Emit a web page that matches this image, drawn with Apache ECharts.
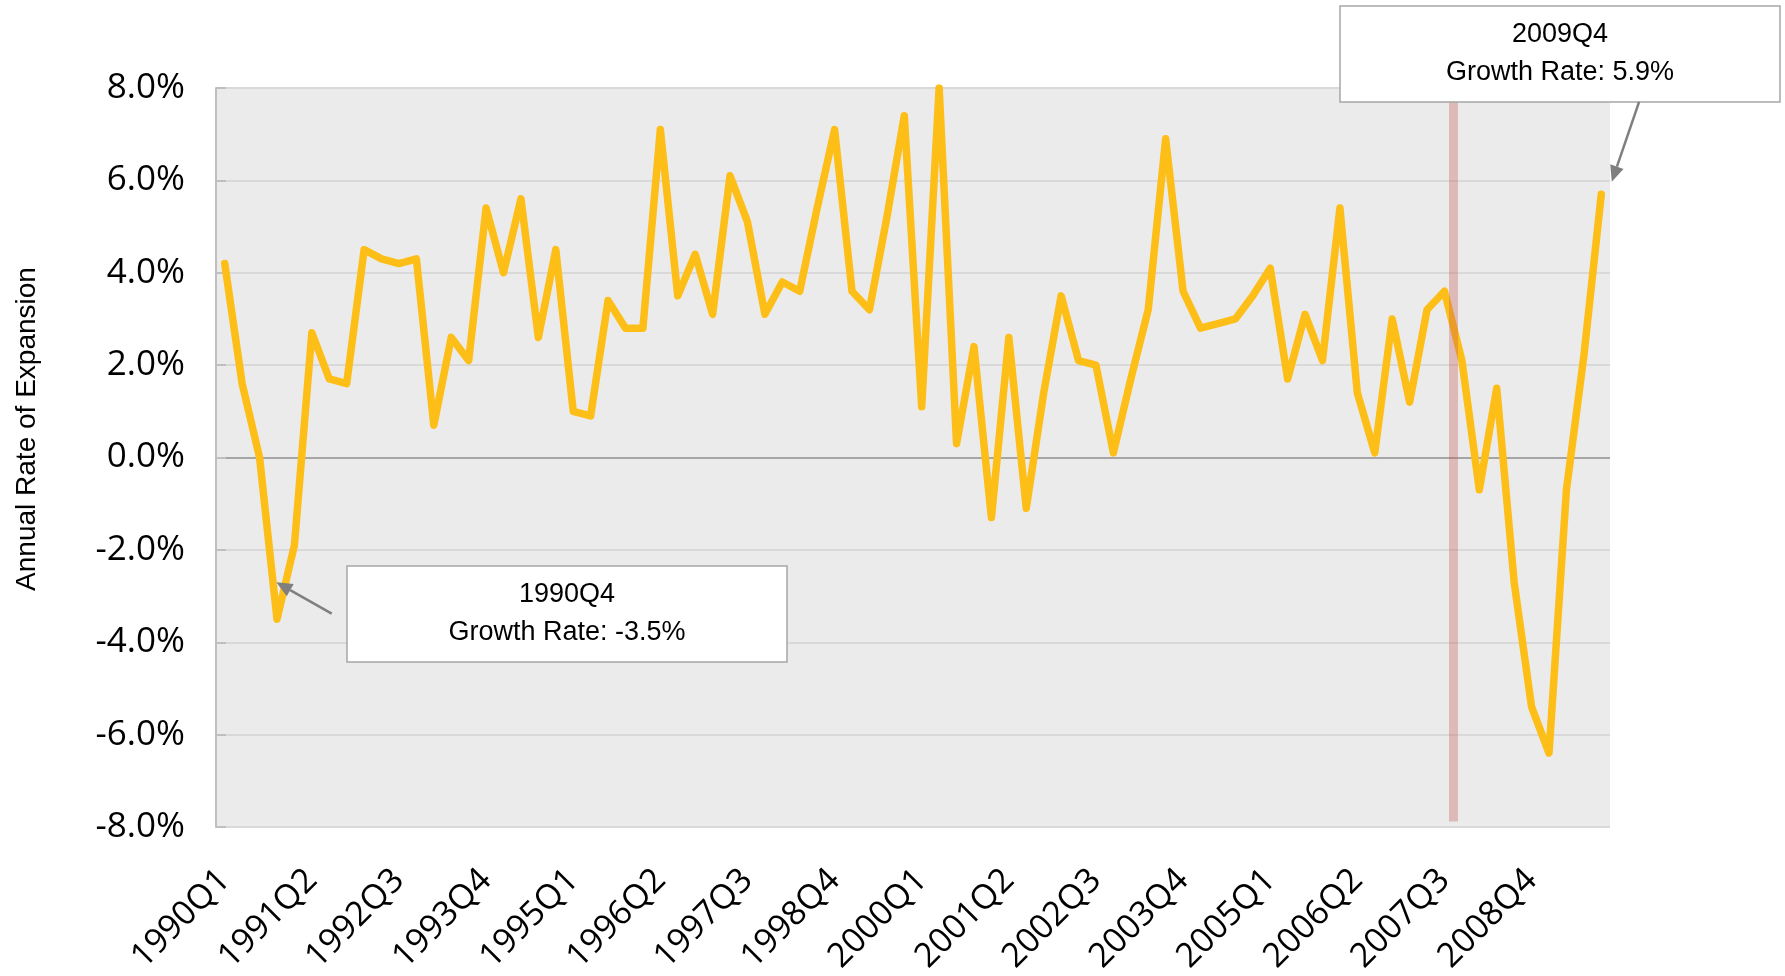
<!DOCTYPE html>
<html>
<head>
<meta charset="utf-8">
<title>Annual Rate of Expansion</title>
<script src="https://cdn.jsdelivr.net/npm/echarts@6/dist/echarts.min.js"></script>
<style>
  html, body { margin: 0; padding: 0; background: #fff; }
  #chart { width: 1785px; height: 976px; }
</style>
</head>
<body>
<div id="chart"></div>
<script>
// 季度标签 1990Q1 ~ 2009Q4
const years = [1990, 1991, 1992, 1993, 1994, 1995, 1996, 1997, 1998, 1999,
  2000, 2001, 2002, 2003, 2004, 2005, 2006, 2007, 2008, 2009]
const quarters = ['Q1', 'Q2', 'Q3', 'Q4']
const categories = []
years.forEach(y => quarters.forEach(q => categories.push(y + q)))

// 年化增长率 (%)
const growthRates = [
  4.2, 1.6, 0.0, -3.5, -1.9, 2.7, 1.7, 1.6, 4.5, 4.3,
  4.2, 4.3, 0.7, 2.6, 2.1, 5.4, 4.0, 5.6, 2.6, 4.5,
  1.0, 0.9, 3.4, 2.8, 2.8, 7.1, 3.5, 4.4, 3.1, 6.1,
  5.1, 3.1, 3.8, 3.6, 5.4, 7.1, 3.6, 3.2, 5.2, 7.4,
  1.1, 8.0, 0.3, 2.4, -1.3, 2.6, -1.1, 1.4, 3.5, 2.1,
  2.0, 0.1, 1.7, 3.2, 6.9, 3.6, 2.8, 2.9, 3.0, 3.5,
  4.1, 1.7, 3.1, 2.1, 5.4, 1.4, 0.1, 3.0, 1.2, 3.2,
  3.6, 2.1, -0.7, 1.5, -2.7, -5.4, -6.4, -0.7, 2.2, 5.7
]

// y 轴刻度
const yMin = -8
const yMax = 8
const yStep = 2

// 标注
const lowCallout = { quarter: '1990Q4', rate: -3.5 }
const lastCallout = { quarter: '2009Q4', rate: 5.9 }
// 竖线位置 (2007Q3 与 2007Q4 之间，按季度计数)
const markerQuarter = 71

const chart = echarts.init(document.getElementById('chart'))

const gridColor = '#d9d9d9'
const splitColors = []
for (let v = yMin; v <= yMax; v += yStep) splitColors.push(v === 0 ? '#a6a6a6' : gridColor)

const option = {
  animation: false,
  grid: {
    left: 216, right: 175, top: 88, bottom: 149,
    outerBoundsMode: 'none',
    containLabel: false,
    show: true, backgroundColor: '#ebebeb', borderWidth: 0
  },
  xAxis: [
    {
      type: 'category',
      data: categories,
      boundaryGap: true,
      axisLine: { show: false },
      axisTick: { show: false },
      splitLine: { show: false },
      axisLabel: {
        interval: 4,
        rotate: 45,
        margin: 48,
        color: '#000',
        fontFamily: 'Open Sans',
        fontSize: 34
      }
    },
    // 辅助数值轴，用于标注定位
    { type: 'value', min: 0, max: categories.length, show: false }
  ],
  yAxis: {
    type: 'value',
    min: yMin,
    max: yMax,
    interval: yStep,
    axisLine: { show: true, lineStyle: { color: '#bfbfbf', width: 2 } },
    axisTick: { show: true, inside: true, length: 10, lineStyle: { color: '#bfbfbf', width: 2 } },
    splitLine: { lineStyle: { color: splitColors, width: 2 } },
    axisLabel: {
      margin: 31,
      color: '#000',
      fontFamily: 'Open Sans',
      fontSize: 35,
      formatter: v => v.toFixed(1) + '%'
    }
  },
  series: [
    {
      name: 'Annual Rate of Expansion',
      type: 'line',
      data: growthRates,
      symbol: 'none',
      z: 3,
      lineStyle: { color: '#FEBE18', width: 7.5, cap: 'round', join: 'round' }
    },
    {
      type: 'line',
      xAxisIndex: 1,
      data: [],
      silent: true,
      markLine: {
        silent: true,
        symbol: 'none',
        label: { show: false },
        lineStyle: { color: 'rgba(192, 80, 77, 0.32)', width: 9, type: 'solid' },
        data: [[{ coord: [markerQuarter, yMax] }, { coord: [markerQuarter, -7.88] }]]
      }
    }
  ]
}

chart.setOption(option)

// 箭头
const arrow = (from, to) => {
  const [x1, y1] = chart.convertToPixel({ seriesIndex: 1 }, from)
  const [x2, y2] = chart.convertToPixel({ seriesIndex: 1 }, to)
  const ang = Math.atan2(y2 - y1, x2 - x1)
  const len = 16
  const half = 7
  const bx = x2 - len * Math.cos(ang)
  const by = y2 - len * Math.sin(ang)
  return [
    { type: 'line', z: 10, shape: { x1, y1, x2: bx, y2: by }, style: { stroke: '#7f7f7f', lineWidth: 2.5 } },
    {
      type: 'polygon', z: 10,
      shape: { points: [[x2, y2], [bx - half * Math.sin(ang), by + half * Math.cos(ang)], [bx + half * Math.sin(ang), by - half * Math.cos(ang)]] },
      style: { fill: '#7f7f7f' }
    }
  ]
}

// 标注框
const callout = (left, top, info) => ({
  type: 'group',
  z: 10,
  children: [
    { type: 'rect', z: 10, shape: { x: left, y: top, width: 440, height: 96 }, style: { fill: '#fff', stroke: '#a6a6a6', lineWidth: 1.5 } },
    {
      type: 'text', z: 11,
      style: {
        x: left + 220, y: top + 48,
        text: info.quarter + '\nGrowth Rate: ' + info.rate.toFixed(1) + '%',
        align: 'center', verticalAlign: 'middle',
        fontFamily: 'Liberation Sans', fontSize: 27, lineHeight: 38, fill: '#000'
      }
    }
  ]
})

chart.setOption({
  graphic: [
    {
      type: 'text', x: 27, y: 429, rotation: Math.PI / 2,
      style: {
        text: 'Annual Rate of Expansion', align: 'center', verticalAlign: 'middle',
        fontFamily: 'Liberation Sans', fontSize: 28, fill: '#000'
      }
    },
    callout(347, 566, lowCallout),
    callout(1340, 6, lastCallout),
    ...arrow([6.64, -3.38], [3.46, -2.70]),
    ...arrow([81.67, 7.70], [80.1, 5.97])
  ]
})
</script>
</body>
</html>
